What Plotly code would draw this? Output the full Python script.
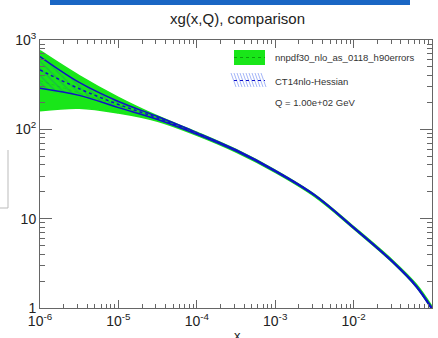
import plotly.graph_objects as go

# log10(x) sample points
logx = [-6, -5.5, -5, -4.5, -4, -3.5, -3, -2.5, -2, -1.5, -1.2, -1]

nn_central = [350, 255, 184, 132, 89, 57.5, 33.9, 18.2, 7.94, 3.31, 1.78, 1.0]
nn_upper = [760, 400, 228, 141, 93, 59.5, 34.9, 18.7, 8.15, 3.4, 1.84, 1.04]
nn_lower = [161, 172, 152, 123, 85.5, 55.5, 32.9, 17.7, 7.73, 3.22, 1.72, 0.96]

ct_central = [462, 285, 190, 134, 90, 58, 34.2, 18.4, 7.94, 3.28, 1.75, 0.98]
ct_upper = [652, 335, 205, 139, 92, 59, 34.7, 18.6, 8.05, 3.33, 1.78, 1.0]
ct_lower = [288, 240, 175, 129, 88, 57, 33.7, 18.2, 7.83, 3.23, 1.72, 0.96]

x_tickvals = [1e-6, 1e-5, 1e-4, 1e-3, 1e-2, 1e-1]
x_ticktext = ["10<sup>-6</sup>", "10<sup>-5</sup>", "10<sup>-4</sup>",
              "10<sup>-3</sup>", "10<sup>-2</sup>", "10<sup>-1</sup>"]
y_tickvals = [1, 10, 100, 1000]
y_ticktext = ["1", "10", "10<sup>2</sup>", "10<sup>3</sup>"]

legend_labels = ["nnpdf30_nlo_as_0118_h90errors", "CT14nlo-Hessian", "Q = 1.00e+02 GeV"]
title_text = "xg(x,Q), comparison"

xs = [10 ** v for v in logx]

GREEN = "#19e619"
BLUE = "#1010c8"

fig = go.Figure()
# NNPDF band
fig.add_trace(go.Scatter(x=xs, y=nn_lower, mode="lines", line=dict(color=GREEN, width=1.5, shape="spline"),
                         showlegend=False, hoverinfo="skip"))
fig.add_trace(go.Scatter(x=xs, y=nn_upper, mode="lines", line=dict(color=GREEN, width=1.5, shape="spline"),
                         fill="tonexty", fillcolor=GREEN, showlegend=False, hoverinfo="skip"))
fig.add_trace(go.Scatter(x=xs, y=nn_central, mode="lines",
                         line=dict(color="#12d812", width=1, dash="dot", shape="spline"),
                         showlegend=False))
# CT14 band (hatched)
fig.add_trace(go.Scatter(x=xs, y=ct_lower, mode="lines", line=dict(color=BLUE, width=1.5, shape="spline"),
                         showlegend=False, hoverinfo="skip"))
fig.add_trace(go.Scatter(x=xs, y=ct_upper, mode="lines", line=dict(color=BLUE, width=1.5, shape="spline"),
                         fill="tonexty", fillcolor="rgba(0,0,0,0)",
                         fillpattern=dict(shape="\\", fgcolor="rgba(30,60,200,0.55)", bgcolor="rgba(0,0,0,0)",
                                          size=5, solidity=0.25),
                         showlegend=False, hoverinfo="skip"))
fig.add_trace(go.Scatter(x=xs, y=ct_central, mode="lines",
                         line=dict(color=BLUE, width=1.5, dash="dot", shape="spline"),
                         showlegend=False))

axis_common = dict(type="log", showgrid=False, zeroline=False, showline=True, linecolor="#666",
                   linewidth=1, mirror="allticks", ticks="inside", tickcolor="#666",
                   tickfont=dict(family="Liberation Sans, Arial", size=14, color="#222"))

minor_x = [m * 10 ** d for d in range(-6, -1) for m in range(2, 10)]
minor_y = [m * 10 ** d for d in range(0, 3) for m in range(2, 10)]

fig.update_xaxes(**axis_common, range=[-6, -1], tickvals=x_tickvals, ticktext=x_ticktext, ticklen=8,
                 minor=dict(tickvals=minor_x, ticks="inside", ticklen=4, tickcolor="#666"))
fig.update_yaxes(**axis_common, range=[0, 3], tickvals=y_tickvals, ticktext=y_ticktext, ticklen=12,
                 minor=dict(tickvals=minor_y, ticks="inside", ticklen=5, tickcolor="#666"))

W, H = 438, 338
L, R, T, B = 40, 6, 40, 30
pw, ph = W - L - R, H - T - B


def px(xp):
    return (xp - L) / pw


def py(yp):
    return (H - B - yp) / ph


shapes = []
# Blue bar at top
shapes.append(dict(type="rect", xref="paper", yref="paper", x0=px(50), x1=px(410), y0=py(5), y1=py(-2),
                   fillcolor="#1a66c4", line=dict(width=0), layer="above"))
# left gray border fragment
shapes.append(dict(type="line", xref="paper", yref="paper", x0=px(8), x1=px(8), y0=py(150), y1=py(208),
                   line=dict(color="#bbb", width=1)))
shapes.append(dict(type="line", xref="paper", yref="paper", x0=px(0), x1=px(8), y0=py(208), y1=py(208),
                   line=dict(color="#bbb", width=1)))
# Legend: green box
shapes.append(dict(type="rect", xref="paper", yref="paper", x0=px(234), x1=px(265), y0=py(65), y1=py(50),
                   fillcolor=GREEN, line=dict(width=0)))
shapes.append(dict(type="line", xref="paper", yref="paper", x0=px(234), x1=px(265), y0=py(57.5), y1=py(57.5),
                   line=dict(color="#0ca00c", width=1, dash="dot")))
# Legend: hatched blue box
for i in range(11):
    x0 = 231 + i * 3
    shapes.append(dict(type="line", xref="paper", yref="paper", x0=px(x0), x1=px(x0 + 5), y0=py(73), y1=py(87),
                       line=dict(color="rgba(90,120,240,0.55)", width=1)))
shapes.append(dict(type="line", xref="paper", yref="paper", x0=px(234), x1=px(265), y0=py(80.5), y1=py(80.5),
                   line=dict(color=BLUE, width=1.2, dash="dot")))

annotations = [
    dict(text=title_text, xref="paper", yref="paper", x=px(238), y=py(18), showarrow=False,
         font=dict(family="Liberation Sans, Arial", size=15, color="#222"), xanchor="center", yanchor="middle"),
    dict(text="x", xref="paper", yref="paper", x=px(237), y=py(335), showarrow=False,
         font=dict(family="Liberation Sans, Arial", size=13, color="#222"), xanchor="center", yanchor="middle"),
]
for lab, yy in zip(legend_labels, [57, 81, 103]):
    annotations.append(dict(text=lab, xref="paper", yref="paper", x=px(273), y=py(yy), showarrow=False,
                            font=dict(family="Liberation Sans, Arial", size=9.5, color="#333"),
                            xanchor="left", yanchor="middle"))

fig.update_layout(width=W, height=H, margin=dict(l=L, r=R, t=T, b=B), paper_bgcolor="white",
                  plot_bgcolor="white", shapes=shapes, annotations=annotations, showlegend=False)

fig.write_html("out.html")
